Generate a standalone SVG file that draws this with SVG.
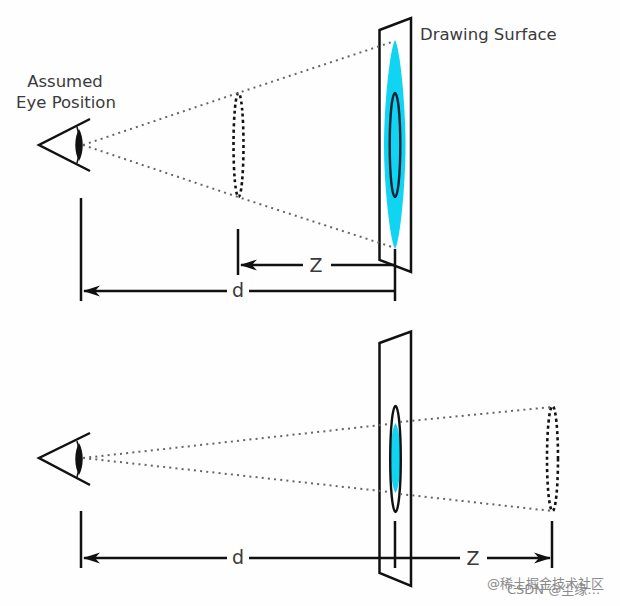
<svg xmlns="http://www.w3.org/2000/svg" width="620" height="606" viewBox="0 0 620 606">
<style>
text{font-family:"DejaVu Sans","Noto Sans CJK SC",sans-serif;fill:#3a3a3a}
.l{font-size:16.500px}
.dim{font-size:19px;text-anchor:middle}
.wm{font-size:13px;fill:#8a8a8a}
.k{fill:none;stroke:#111;stroke-width:2.500;stroke-linecap:butt;stroke-linejoin:miter}
.dt{fill:none;stroke:#666;stroke-width:2;stroke-dasharray:2 4.200}
.de{fill:none;stroke:#111;stroke-width:2.600;stroke-dasharray:3 3.200}
.lens{fill:#111;stroke:none}
.cy{fill:#0fd4f2;stroke:none}
</style>
<defs>
<marker id="ah" viewBox="0 0 18 12" refX="16" refY="6" markerWidth="18" markerHeight="12" markerUnits="userSpaceOnUse" orient="auto">
<path d="M17 6L0 0.500L5 6L0 11.500Z" fill="#111"/>
</marker>
</defs>
<rect width="620" height="606" fill="#fefefe"/>
<g id="top-surface">
<path class="k" d="M379.500 30L411 18V272L379.500 260Z"/>
<path class="cy" d="M395 40C400 48 405.500 105 405.500 145C405.500 185 400 241 395 249C390 241 384 185 384 145C384 105 390 48 395 40Z"/>
<ellipse cx="395" cy="145" rx="5.300" ry="52" fill="none" stroke="#123" stroke-width="2.400"/>
<text class="l" x="420" y="40">Drawing Surface</text>
</g>
<g id="top-eye">
<path class="k" d="M90 119L39 145L90 171"/>
<path class="k" style="stroke-width:1.500" d="M77 127Q83 145 77 163"/>
<path class="lens" d="M79 129C84 138 84 152 79 161C74 152 74 138 79 129Z"/>
<text class="l" x="65" y="87" text-anchor="middle">Assumed</text>
<text class="l" x="66" y="108" text-anchor="middle">Eye Position</text>
</g>
<g id="top-object">
<ellipse class="de" cx="238.500" cy="145" rx="5" ry="52"/>
</g>
<g id="bottom-surface">
<path class="k" d="M379.500 343L411 331.500V586L379.500 573Z"/>
<path class="cy" d="M395.500 423C399 428 400.500 445 400.500 458C400.500 471 399 488 395.500 493C392 488 390.500 471 390.500 458C390.500 445 392 428 395.500 423Z"/>
<ellipse cx="395.500" cy="459" rx="5.300" ry="53" fill="none" stroke="#111" stroke-width="2.400"/>
</g>
<g id="bottom-eye">
<path class="k" d="M90 433L39 458L90 485"/>
<path class="k" style="stroke-width:1.500" d="M77 441Q83 459 77 477"/>
<path class="lens" d="M79 443C84 452 84 466 79 475C74 466 74 452 79 443Z"/>
</g>
<g id="bottom-object">
<ellipse class="de" cx="552.500" cy="458.500" rx="5.500" ry="52.500"/>
</g>
<g id="connectors">
<path class="dt" d="M83 145L238 93L392 42M83 145L238 197L392 247"/>
<path class="dt" d="M83 458L390 424M400 422L552 407M83 458L390 492M400 494L552 511"/>
<g class="k">
<path d="M81 198V301M238 229V275M395 249V301"/>
<path d="M331 265H395"/>
<path d="M303 265H241" marker-end="url(#ah)"/>
<path d="M395 291H249"/>
<path d="M227 291H84" marker-end="url(#ah)"/>
<path d="M81 511V568M395 521V568M552 521V568"/>
<path d="M227 558H84" marker-end="url(#ah)"/>
<path d="M249 558H460"/>
<path d="M487 558H550" marker-end="url(#ah)"/>
</g>
<text class="dim" x="316" y="272">Z</text>
<text class="dim" x="238" y="297">d</text>
<text class="dim" x="238" y="564">d</text>
<text class="dim" x="473" y="565">Z</text>
</g>
<text class="wm" x="487" y="588">@稀土掘金技术社区</text>
<text class="wm" x="507" y="594">CSDN @尘缘…</text>
</svg>
